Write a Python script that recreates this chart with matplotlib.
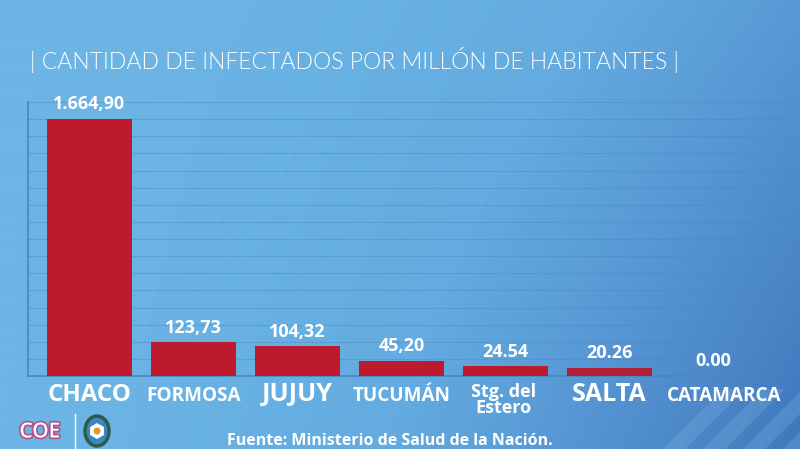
import numpy as np
import matplotlib
matplotlib.use('Agg')
import matplotlib.pyplot as plt
from matplotlib.colors import LinearSegmentedColormap
from matplotlib.patches import Polygon, Ellipse, RegularPolygon, Circle
import matplotlib.patheffects as pe

provincias = ['CHACO', 'FORMOSA', 'JUJUY', 'TUCUMÁN', 'Stg. del\nEstero', 'SALTA', 'CATAMARCA']
infectados = [1664.90, 123.73, 104.32, 45.20, 24.54, 20.26, 0.00]
etiquetas = ['1.664,90', '123,73', '104,32', '45,20', '24.54', '20.26', '0.00']
tam_etiqueta = [17.4, 13.6, 18.3, 13.6, 13, 18, 13.6]

titulo = '| CANTIDAD DE INFECTADOS POR MILLÓN DE HABITANTES |'
fuente = 'Fuente: Ministerio de Salud de la Nación.'

W, H = 800, 449
fig = plt.figure(figsize=(W / 100, H / 100), dpi=100)

# background gradient
bg = fig.add_axes([0, 0, 1, 1])
gx, gy = np.meshgrid(np.linspace(0, 1, 400), np.linspace(0, 1, 225))
t = np.clip(0.55 * gx ** 1.8 + 0.45 * gy * gx ** 1.2, 0, 1)
cmap = LinearSegmentedColormap.from_list('bg', ['#6cb5e5', '#63abe0', '#5290d0', '#3f78bd'])
bg.imshow(t, cmap=cmap, aspect='auto', extent=[0, W, H, 0], vmin=0, vmax=1)
bg.set_xlim(0, W)
bg.set_ylim(H, 0)
bg.axis('off')

# diagonal stripes bottom right
for x0 in [663, 703, 743, 783, 823]:
    poly = Polygon([[x0, 449], [x0 + 22, 449], [x0 + 22 + 60, 389], [x0 + 60, 389]],
                   closed=True, color='#7fb0e2', alpha=0.3, lw=0)
    bg.add_patch(poly)

# COE logo
bg.text(40, 432, 'COE', ha='center', va='center', fontsize=15, color='white',
        family='Open Sans', weight='semibold',
        path_effects=[pe.withStroke(linewidth=2.4, foreground='#b0508f')])
bg.plot([75, 75], [414, 449], color='white', lw=1)
bg.add_patch(Ellipse((97, 431), 24, 30, facecolor='#3a86c8', edgecolor='#2c5e45', lw=2.5))
bg.add_patch(RegularPolygon((97, 431), 6, radius=8, facecolor='white', edgecolor='none'))
bg.add_patch(Circle((97, 431), 3.5, facecolor='#e39a2d', edgecolor='none'))

# title and source
fig.text(30 / W, 1 - 60 / H, titulo, ha='left', va='center', fontsize=16.6,
         color='white', family='Lato', weight=300)
fig.text(390 / W, 1 - 441 / H, fuente, ha='center', va='center', fontsize=11.5,
         color='white', family='Open Sans', weight='bold')

# chart
ax = fig.add_axes([28 / W, 1 - 376 / H, (790 - 28) / W, (376 - 102) / H])
ax.patch.set_alpha(0)

p = 0.78
ax.set_yscale('function', functions=(lambda v: np.sign(v) * np.abs(v) ** p,
                                     lambda v: np.sign(v) * np.abs(v) ** (1 / p)))
top = (max(infectados) ** p / 0.938) ** (1 / p)
ax.set_ylim(0, top)

x = np.arange(len(provincias))
colores = ['#bd1b2d'] * 5 + ['#b02038', '#bd1b2d']
ax.bar(x, infectados, width=0.82, color=colores, zorder=3)
ax.set_xlim(-0.591, -0.591 + 762 / 104)

for k in range(1, 17):
    ax.plot([0, 1], [k / 16, k / 16], transform=ax.transAxes, ls=(0, (1, 1.5)),
            color='#4f84ba', lw=0.8, zorder=1)

for xi, v, lab in zip(x, infectados, etiquetas):
    ax.annotate(lab, (xi, v), xytext=(0, 4), textcoords='offset points',
                ha='center', va='bottom', fontsize=13, color='white',
                family='Open Sans', weight='bold', zorder=4)

tr = ax.get_xaxis_transform()
for xi, nom, sz in zip(x, provincias, tam_etiqueta):
    if '\n' in nom:
        ax.text(xi - 0.02, -7 / 274, nom, transform=tr, ha='center', va='top', fontsize=sz,
                color='white', family='Open Sans', weight='bold', linespacing=0.88)
    else:
        ax.text(xi + (0.1 if xi == 6 else 0), -25 / 274, nom, transform=tr,
                ha='center', va='baseline', fontsize=sz,
                color='white', family='Open Sans', weight='bold')

ax.set_xticks([])
ax.set_yticks([])
ax.minorticks_off()
for s in ['top', 'right']:
    ax.spines[s].set_visible(False)
ax.spines['left'].set_color('#4f84ba')
ax.spines['bottom'].set_color('#4f84ba')
ax.spines['left'].set_linewidth(1.2)
ax.spines['bottom'].set_linewidth(1.2)

fig.savefig('out.png', dpi=100)
